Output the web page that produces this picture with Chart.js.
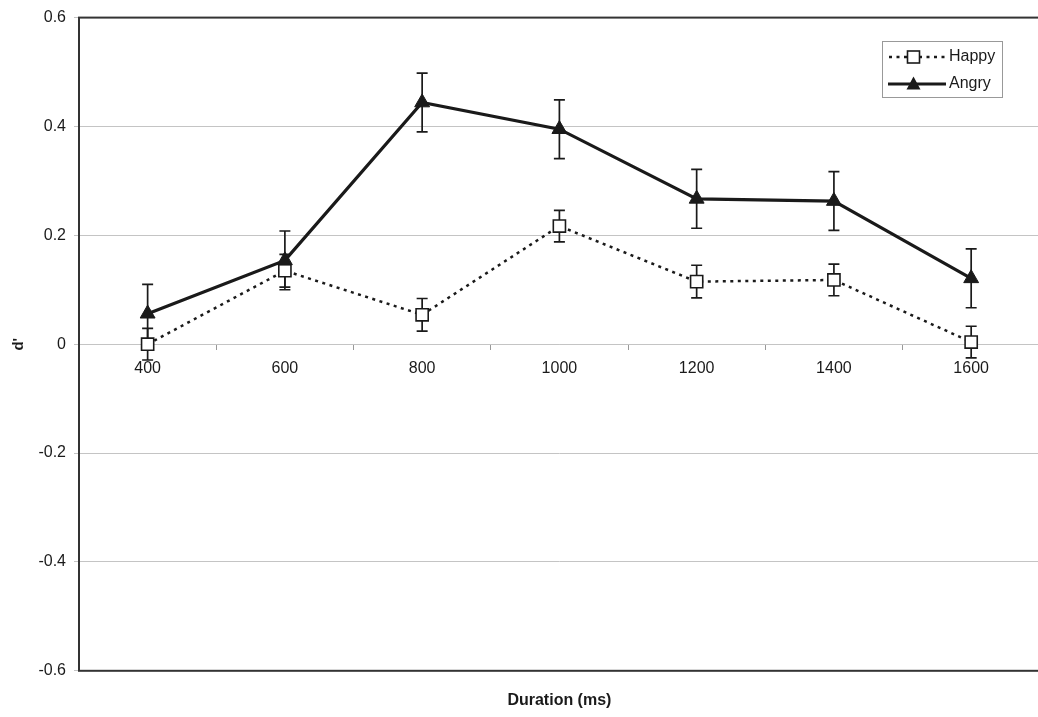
<!DOCTYPE html>
<html>
<head>
<meta charset="utf-8">
<script src="https://cdn.jsdelivr.net/npm/chart.js@4/dist/chart.umd.min.js"></script>
<style>
  html, body { margin: 0; padding: 0; background: #fff; overflow: hidden; }
  #wrap { width: 1050px; height: 717px; }
</style>
</head>
<body>
<div id="wrap"><canvas id="c"></canvas></div>
<script>
var durations = ['400', '600', '800', '1000', '1200', '1400', '1600'];
var happy = [0.0, 0.135, 0.054, 0.217, 0.115, 0.118, 0.004];
var happyErr = [0.029, 0.03, 0.03, 0.029, 0.03, 0.029, 0.029];
var angry = [0.056, 0.154, 0.444, 0.395, 0.267, 0.263, 0.121];
var angryErr = [0.054, 0.054, 0.054, 0.054, 0.054, 0.054, 0.054];
var yTicks = [-0.6, -0.4, -0.2, 0, 0.2, 0.4, 0.6];

var ink = '#1a1a1a';
var gridGrey = '#c4c4c4';

// error bars, drawn behind lines and markers
var errorBars = {
	id: 'errorBars',
	beforeDatasetsDraw: function (chart) {
		var ctx = chart.ctx;
		var yScale = chart.scales.y;
		var errs = [happyErr, angryErr];
		ctx.save();
		ctx.strokeStyle = ink;
		ctx.lineWidth = 1.7;
		chart.data.datasets.forEach(function (ds, i) {
			var meta = chart.getDatasetMeta(i);
			meta.data.forEach(function (pt, j) {
				var v = ds.data[j];
				var top = yScale.getPixelForValue(v + errs[i][j]);
				var bot = yScale.getPixelForValue(v - errs[i][j]);
				ctx.beginPath();
				ctx.moveTo(pt.x, top); ctx.lineTo(pt.x, bot);
				ctx.moveTo(pt.x - 5.5, top); ctx.lineTo(pt.x + 5.5, top);
				ctx.moveTo(pt.x - 5.5, bot); ctx.lineTo(pt.x + 5.5, bot);
				ctx.stroke();
			});
		});
		ctx.restore();
	}
};

// plot frame + legend box
var frameAndLegend = {
	id: 'frameAndLegend',
	afterDraw: function (chart) {
		var ctx = chart.ctx;
		var a = chart.chartArea;
		ctx.save();
		ctx.strokeStyle = '#333';
		ctx.lineWidth = 2;
		ctx.strokeRect(a.left, a.top, a.right - a.left, a.bottom - a.top);

		// legend
		ctx.lineWidth = 1;
		ctx.strokeStyle = '#999';
		ctx.strokeRect(882.5, 41.5, 120, 56);
		ctx.font = '16px "Liberation Sans", Arial, sans-serif';
		ctx.fillStyle = ink;
		ctx.textBaseline = 'middle';

		// Happy row
		ctx.strokeStyle = ink;
		ctx.lineWidth = 2.5;
		ctx.setLineDash([3, 4.5]);
		ctx.beginPath(); ctx.moveTo(889, 57); ctx.lineTo(946, 57); ctx.stroke();
		ctx.setLineDash([]);
		ctx.lineWidth = 1.6;
		ctx.fillStyle = '#fff';
		ctx.fillRect(907.5, 51, 12, 12);
		ctx.strokeRect(907.5, 51, 12, 12);
		ctx.fillStyle = ink;
		ctx.fillText('Happy', 949, 57);

		// Angry row
		ctx.lineWidth = 3;
		ctx.beginPath(); ctx.moveTo(888, 84); ctx.lineTo(946, 84); ctx.stroke();
		ctx.beginPath();
		ctx.moveTo(913.5, 76.5); ctx.lineTo(920.5, 89.5); ctx.lineTo(906.5, 89.5); ctx.closePath();
		ctx.fill();
		ctx.fillText('Angry', 949, 84);
		ctx.restore();
	}
};

var ctx = document.getElementById('c').getContext('2d');
var chart = new Chart(ctx, {
	type: 'line',
	data: {
		labels: durations,
		datasets: [{
			label: 'Happy',
			data: happy,
			order: 1,
			borderColor: ink,
			borderWidth: 2.5,
			borderDash: [3, 4.5],
			fill: false,
			tension: 0,
			pointStyle: 'rect',
			pointRadius: 8.6,
			pointBackgroundColor: '#fff',
			pointBorderColor: ink,
			pointBorderWidth: 1.6
		}, {
			label: 'Angry',
			data: angry,
			order: 0,
			borderColor: ink,
			borderWidth: 3.2,
			fill: false,
			tension: 0,
			pointStyle: 'triangle',
			pointRadius: 8.6,
			pointBackgroundColor: ink,
			pointBorderColor: ink,
			pointBorderWidth: 1
		}]
	},
	options: {
		responsive: true,
		maintainAspectRatio: false,
		animation: false,
		layout: { padding: { left: 0, top: 16, right: 3, bottom: 0 } },
		plugins: {
			legend: { display: false },
			tooltip: { enabled: false },
			title: {
				display: true,
				position: 'bottom',
				fullSize: false,
				text: 'Duration (ms)',
				color: ink,
				font: { family: '"Liberation Sans", Arial, sans-serif', size: 16, weight: 'bold' },
				padding: { top: 20, bottom: 7 }
			}
		},
		scales: {
			x: {
				type: 'category',
				position: { y: 0 },
				offset: true,
				grid: { drawOnChartArea: false, drawTicks: true, tickLength: 5, color: '#999', offset: true },
				border: { color: gridGrey, width: 1 },
				ticks: {
					color: ink,
					padding: 10,
					maxRotation: 0,
					font: { family: '"Liberation Sans", Arial, sans-serif', size: 16 }
				},
				afterFit: function (s) { s.height = 0; }
			},
			y: {
				min: -0.6,
				max: 0.6,
				afterBuildTicks: function (s) {
					s.ticks = yTicks.map(function (v) { return { value: v }; });
				},
				grid: { color: gridGrey, tickLength: 5, drawTicks: true },
				border: { display: false },
				ticks: {
					color: ink,
					padding: 8,
					font: { family: '"Liberation Sans", Arial, sans-serif', size: 16 },
					callback: function (v) { return String(Math.round(v * 10) / 10); }
				},
				title: {
					display: true,
					text: "d'",
					color: ink,
					font: { family: '"Liberation Sans", Arial, sans-serif', size: 15, weight: 'bold' },
					padding: { top: 10, bottom: 0 }
				},
				afterFit: function (s) { s.width = 79; }
			}
		}
	},
	plugins: [errorBars, frameAndLegend]
});
</script>
</body>
</html>
